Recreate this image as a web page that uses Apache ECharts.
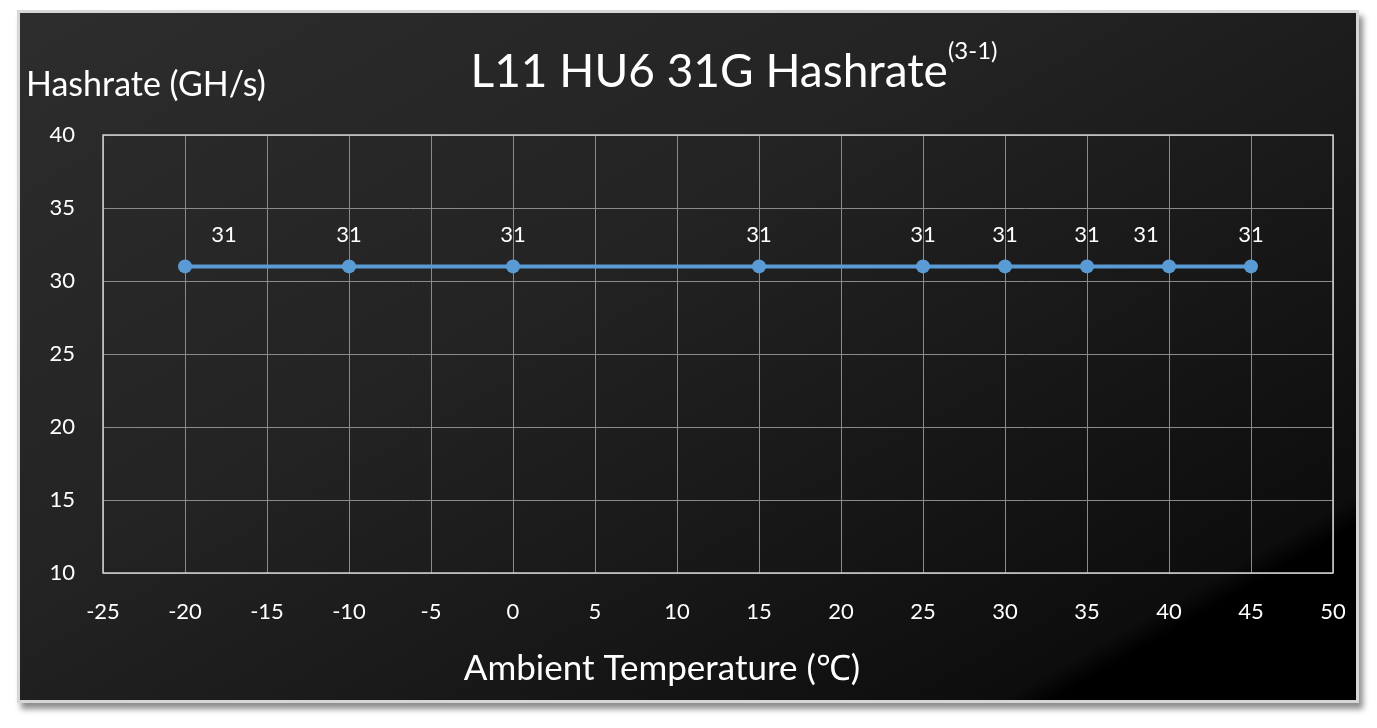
<!DOCTYPE html>
<html>
<head>
<meta charset="utf-8">
<script src="https://cdn.jsdelivr.net/npm/echarts@6/dist/echarts.min.js"></script>
<style>
html,body{margin:0;padding:0;background:#ffffff;width:1377px;height:728px;overflow:hidden;}
#frame{position:absolute;left:17px;top:10px;width:1336px;height:687px;border:3px solid #d6d6d6;
background:linear-gradient(150deg,#2d2d2d 0%,#232323 40%,#161616 68%,#0d0d0d 86%,#000000 88%,#000000 100%);
box-shadow:4px 6px 6px rgba(0,0,0,0.45);}
#chart{position:absolute;left:0;top:0;width:1377px;height:728px;}
</style>
</head>
<body>
<div id="frame"></div>
<div id="chart"></div>
<script>
const temperatures = [-20, -10, 0, 15, 25, 30, 35, 40, 45];
const hashrates = [31, 31, 31, 31, 31, 31, 31, 31, 31];
const xTicks = [-25, 50, 5];
const yTicks = [10, 40, 5];

const labelOffsets = {0: [39, 0], 7: [-23, 0]};
const seriesData = temperatures.map((t, i) => {
  const item = {value: [t, hashrates[i]]};
  if (labelOffsets[i]) item.label = {offset: labelOffsets[i]};
  return item;
});

const font = 'Lato, "Open Sans", sans-serif';
const chart = echarts.init(document.getElementById('chart'), null, {renderer: 'canvas'});
chart.setOption({
  backgroundColor: 'transparent',
  animation: false,
  textStyle: {fontFamily: font},
  title: [{
    text: '{m|L11 HU6 31G Hashrate}{s|(3-1)}',
    left: 729, top: 34, textAlign: 'center',
    textStyle: {
      fontWeight: 'normal',
      rich: {
        m: {color: '#ffffff', fontSize: 46, fontFamily: font, fontWeight: 'normal', verticalAlign: 'bottom', lineHeight: 56},
        s: {color: '#ffffff', fontSize: 24, fontFamily: font, fontWeight: 'normal', verticalAlign: 'top', lineHeight: 56, padding: [0, 0, 22, 0]}
      }
    }
  }, {
    text: 'Hashrate (GH/s)',
    left: 21, top: 63,
    textStyle: {color: '#ffffff', fontSize: 34, fontFamily: font, fontWeight: 'normal'}
  }],
  grid: {left: 103, right: 44, top: 135, bottom: 155},
  xAxis: {
    type: 'value', min: xTicks[0], max: xTicks[1], interval: xTicks[2],
    name: 'Ambient Temperature (℃)', nameLocation: 'middle', nameGap: 78,
    nameTextStyle: {color: '#ffffff', fontSize: 35, fontFamily: font, padding: [0, 112, 0, 0]},
    axisLine: {show: false}, axisTick: {show: false},
    axisLabel: {color: '#ffffff', fontSize: 22, margin: 28, fontFamily: font},
    splitLine: {show: true, lineStyle: {color: '#8a8a8a', width: 1}}
  },
  yAxis: {
    type: 'value', min: yTicks[0], max: yTicks[1], interval: yTicks[2],
    axisLine: {show: false}, axisTick: {show: false},
    axisLabel: {color: '#ffffff', fontSize: 22, margin: 28, fontFamily: font},
    splitLine: {show: true, lineStyle: {color: '#8a8a8a', width: 1}}
  },
  series: [{
    type: 'line',
    data: seriesData,
    symbol: 'circle', symbolSize: 14,
    lineStyle: {color: '#5b9bd5', width: 4},
    itemStyle: {color: '#5b9bd5'},
    label: {show: true, position: 'top', distance: 13, color: '#ffffff', fontSize: 22, fontFamily: font},
    z: 5
  }],
  graphic: [{
    type: 'rect', shape: {x: 103, y: 135, width: 1230, height: 438},
    style: {fill: 'none', stroke: '#cfcfcf', lineWidth: 1.5}, z: 3, silent: true
  }]
});
</script>
</body>
</html>
